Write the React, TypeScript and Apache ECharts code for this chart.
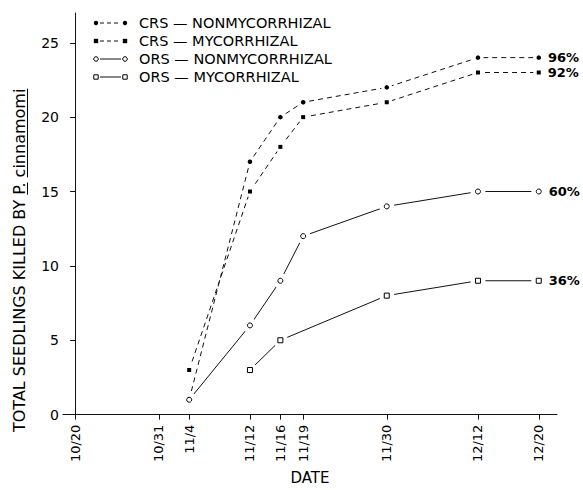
import React, { useEffect, useRef } from 'react';
import * as echarts from 'echarts';

const tickDates = ['10/20', '10/31', '11/4', '11/12', '11/16', '11/19', '11/30', '12/12', '12/20'];
const crsNonDates = ['11/4', '11/12', '11/16', '11/19', '11/30', '12/12', '12/20'];
const crsNonValues = [1, 17, 20, 21, 22, 24, 24];
const crsMycDates = ['11/4', '11/12', '11/16', '11/19', '11/30', '12/12', '12/20'];
const crsMycValues = [3, 15, 18, 20, 21, 23, 23];
const orsNonDates = ['11/4', '11/12', '11/16', '11/19', '11/30', '12/12', '12/20'];
const orsNonValues = [1, 6, 9, 12, 14, 15, 15];
const orsMycDates = ['11/12', '11/16', '11/30', '12/12', '12/20'];
const orsMycValues = [3, 5, 8, 9, 9];
const yTicks = [0, 5, 10, 15, 20, 25];
const seriesNames = ['CRS — NONMYCORRHIZAL', 'CRS — MYCORRHIZAL', 'ORS — NONMYCORRHIZAL', 'ORS — MYCORRHIZAL'];
const endPercents = ['96%', '92%', '60%', '36%'];
const yTitleParts = ['TOTAL SEEDLINGS KILLED BY ', 'P.', ' ', 'cinnamomi'];
const xTitle = 'DATE';

const FONT = '"DejaVu Sans", sans-serif';

function dayOf(s: string) {
  const [m, d] = s.split('/').map(Number);
  return (Date.UTC(1980, m - 1, d) - Date.UTC(1980, 9, 20)) / 86400000;
}

const defs = [
  { name: seriesNames[0], dates: crsNonDates, values: crsNonValues, dashed: true, shape: 'circle', filled: true, pct: endPercents[0], gap: 11 },
  { name: seriesNames[1], dates: crsMycDates, values: crsMycValues, dashed: true, shape: 'rect', filled: true, pct: endPercents[1], gap: 11 },
  { name: seriesNames[2], dates: orsNonDates, values: orsNonValues, dashed: false, shape: 'circle', filled: false, pct: endPercents[2], gap: 15 },
  { name: seriesNames[3], dates: orsMycDates, values: orsMycValues, dashed: false, shape: 'rect', filled: false, pct: endPercents[3], gap: 15 },
];

function measure(text: string, font: string) {
  const c = document.createElement('canvas').getContext('2d')!;
  c.font = font;
  return c.measureText(text).width;
}

export default function App() {
  const ref = useRef<HTMLDivElement>(null);
  useEffect(() => {
    const chart = echarts.init(ref.current!, null, { renderer: 'svg' });
    const series: any[] = [];
    // lines
    defs.forEach((d) => {
      const data = d.dates.map((t, i) => [dayOf(t), d.values[i]]);
      series.push({
        type: 'line',
        name: d.name,
        data,
        showSymbol: false,
        symbol: 'none',
        z: 2,
        lineStyle: { color: '#111', width: 1, type: d.dashed ? [5, 4] : 'solid' },
      });
    });
    // white gaps around the points (lines stop short of the markers)
    defs.forEach((d) => {
      const data = d.dates.map((t, i) => [dayOf(t), d.values[i]]);
      series.push({
        type: 'scatter',
        data,
        symbol: 'circle',
        symbolSize: d.gap,
        z: 10,
        itemStyle: { color: '#fefefe', opacity: 1, borderWidth: 0 },
      });
    });
    // markers, with the end percentage on the last point
    defs.forEach((d) => {
      const n = d.dates.length;
      const data = d.dates.map((t, i) => {
        const v = [dayOf(t), d.values[i]];
        if (i !== n - 1) return v;
        return {
          value: v,
          label: {
            show: true,
            position: 'right',
            distance: 7,
            formatter: () => d.pct,
            color: '#000',
            fontFamily: FONT,
            fontWeight: 'bold',
            fontSize: 13,
          },
        };
      });
      series.push({
        type: 'scatter',
        data,
        symbol: d.shape,
        symbolSize: d.filled ? (d.shape === 'rect' ? 4 : 4.5) : 5,
        z: 20,
        itemStyle: d.filled
          ? { color: '#000', opacity: 1 }
          : { color: '#fefefe', borderColor: '#000', borderWidth: 1, opacity: 1 },
      });
    });

    const legendRows = [23, 41, 59, 77];
    const graphic: any[] = [];
    defs.forEach((d, i) => {
      const y = legendRows[i];
      graphic.push({
        type: 'line',
        shape: { x1: 100, y1: y, x2: 121, y2: y },
        style: { stroke: '#111', lineWidth: 1, lineDash: d.dashed ? [4, 3] : null },
      });
      [96, 125].forEach((x) => {
        const style = d.filled ? { fill: '#000' } : { fill: '#fff', stroke: '#000', lineWidth: 1 };
        if (d.shape === 'circle') {
          graphic.push({ type: 'circle', shape: { cx: x, cy: y, r: d.filled ? 2.2 : 2.3 }, style });
        } else {
          graphic.push({ type: 'rect', shape: { x: x - 2.2, y: y - 2.2, width: 4.4, height: 4.4 }, style });
        }
      });
      graphic.push({
        type: 'text',
        x: 139,
        y,
        style: { text: d.name, font: `14.5px ${FONT}`, fill: '#000', align: 'left', verticalAlign: 'middle' },
      });
    });

    // rotated y-axis title with underlined "P." and "cinnamomi"
    const tFont = `16px ${FONT}`;
    const widths = yTitleParts.map((p) => measure(p, tFont));
    const children: any[] = [];
    let off = 0;
    yTitleParts.forEach((p, i) => {
      children.push({
        type: 'text',
        x: off,
        y: 0,
        style: { text: p, font: tFont, fill: '#000', align: 'left', verticalAlign: 'middle' },
      });
      if (i === 1 || i === 3) {
        children.push({
          type: 'line',
          shape: { x1: off, y1: 8.5, x2: off + widths[i], y2: 8.5 },
          style: { stroke: '#000', lineWidth: 1 },
        });
      }
      off += widths[i];
    });
    graphic.push({
      type: 'group',
      x: 19,
      y: 432,
      rotation: Math.PI / 2,
      children,
    });

    const tickDays = tickDates.map(dayOf);
    chart.setOption({
      animation: false,
      backgroundColor: '#fff',
      grid: { left: 63, right: 26, top: 13, bottom: 69 },
      xAxis: {
        type: 'value',
        min: -1.6,
        max: 63.4,
        name: xTitle,
        nameLocation: 'middle',
        nameGap: 55,
        nameTextStyle: { fontFamily: FONT, fontSize: 15, color: '#000' },
        axisLine: { show: true, lineStyle: { color: '#111', width: 1 } },
        axisTick: { show: true, length: 5, customValues: tickDays, lineStyle: { color: '#111' } },
        axisLabel: {
          customValues: tickDays,
          rotate: 90,
          margin: 10,
          fontFamily: FONT,
          fontSize: 13,
          color: '#000',
          formatter: (v: number) => {
            const idx = tickDays.findIndex((t) => Math.abs(t - v) < 1e-6);
            return idx >= 0 ? tickDates[idx] : '';
          },
        },
        splitLine: { show: false },
      },
      yAxis: {
        type: 'value',
        min: 0,
        max: 27,
        axisLine: { show: true, lineStyle: { color: '#111', width: 1 } },
        axisTick: { show: true, length: 5, customValues: yTicks, lineStyle: { color: '#111' } },
        axisLabel: { customValues: yTicks, margin: 4, fontFamily: FONT, fontSize: 14, color: '#000' },
        splitLine: { show: false },
      },
      series,
      graphic,
    });
    return () => chart.dispose();
  }, []);
  return <div ref={ref} style={{ width: 583, height: 490, position: 'absolute', left: 0, top: 0 }} />;
}
